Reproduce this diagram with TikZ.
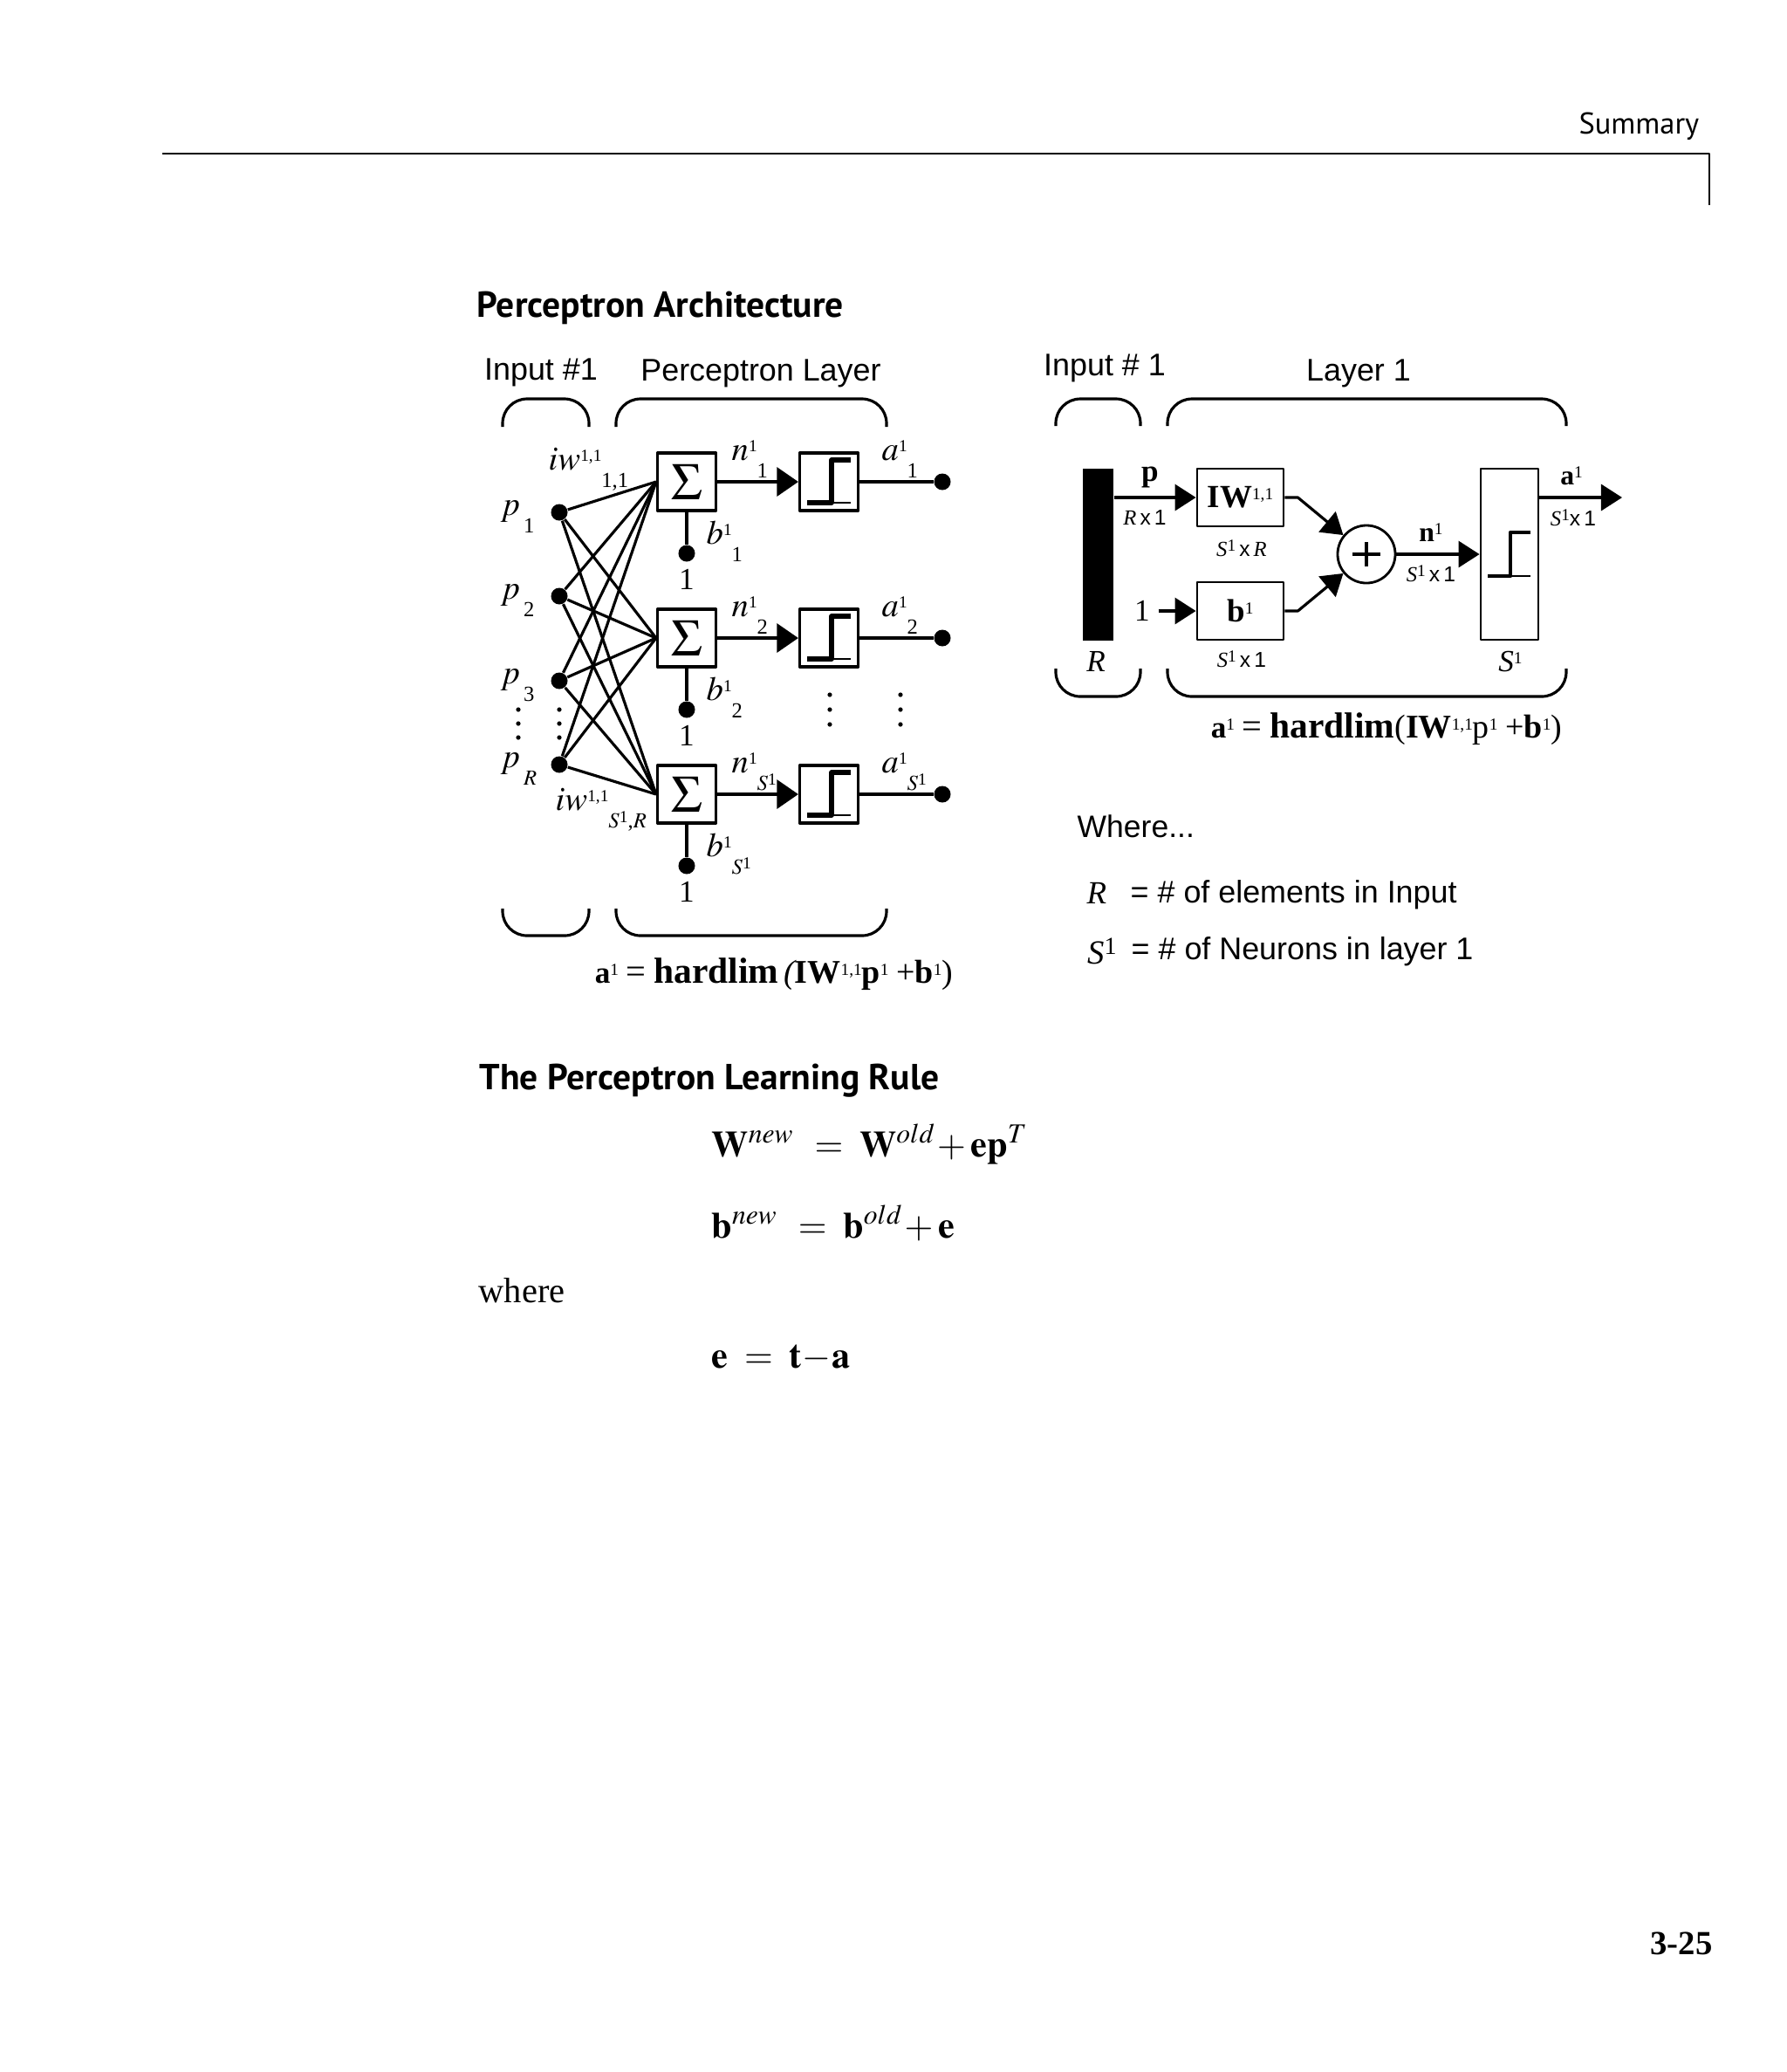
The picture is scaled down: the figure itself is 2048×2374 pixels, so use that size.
\documentclass[tikz,border=0pt]{standalone}
\usepackage{mathptmx}
\usepackage[no-math]{fontspec}
\setmainfont{Liberation Serif}
\setsansfont{Liberation Sans}
\newfontfamily\headfont{PT Sans}
\usetikzlibrary{arrows.meta,positioning}

\newcommand{\setfs}[1]{\fontsize{#1}{#1}\selectfont}
\newcommand{\tsup}[1]{\raisebox{0.55ex}{\setfs{5.5}#1}}
\newcommand{\lsub}[1]{\raisebox{-1.15ex}{\setfs{7}#1}}

\tikzset{
  blk/.style={draw,line width=0.9pt,inner sep=0pt,minimum width=0.67cm,minimum height=0.66cm},
  blkr/.style={draw,line width=0.8pt,inner sep=0pt},
  bigdot/.style={circle,fill,inner sep=0pt,minimum size=0.19cm},
  wire/.style={line width=0.9pt},
  sig/.style={wire,-{Triangle[length=0.245cm,width=0.33cm]}},
  sigr/.style={wire,-{Triangle[length=0.24cm,width=0.3cm]}},
  brace/.style={line width=0.9pt,rounded corners=0.28cm},
  lbl/.style={inner sep=0pt,font=\sffamily\setfs{10.2}},
  mlbl/.style={inner sep=0pt,font=\setfs{11}},
  dimlbl/.style={inner sep=0pt,font=\setfs{7}},
  head/.style={inner sep=0pt,anchor=west,font=\headfont\bfseries\setfs{11.8}},
}

\begin{document}
\begin{tikzpicture}[x=0.01cm,y=-0.01cm,line join=round]
\useasboundingbox (0,0) rectangle (2048,2374);
% page header
\node[inner sep=0pt,anchor=east,font=\headfont\setfs{9.8}] (summary) at (1948,145) {Summary};
\draw[line width=0.75pt] (186,176) -- (1959,176) -- (1959,235);
\node[head] (archtitle) at (546,353) {Perceptron Architecture};

% left: braces and titles
\foreach \l/\r in {576/675,706/1016}{
  \draw[brace] (\l,489) -- (\l,457) -- (\r,457) -- (\r,489);
  \draw[brace] (\l,1041) -- (\l,1072) -- (\r,1072) -- (\r,1041);
}
\node[lbl] (inlabel) at (620,427) {Input \#1};
\node[lbl] (layerlabel) at (872,428) {Perceptron Layer};

% inputs
\foreach \n/\y/\k in {1/587/1,2/683/2,3/780/3,R/876/$R$}{
  \node[bigdot] (p\n) at (641,\y) {};
  \node[mlbl,anchor=base west] (pl\n) at (573,\y+3) {$p$\lsub{\,\k}};
}

% neurons
\foreach \n/\y/\k in {1/552/1,2/731/2,S/910/$S$\tsup{1}}{
  \node[blk] (s\n) at (787,\y) {\setfs{17}$\Sigma$};
  \node[blk] (f\n) at (950,\y) {};
  \node[bigdot] (o\n) at (1080,\y) {};
  \node[bigdot] (b\n) at (787,\y+82) {};
  \node[mlbl,font=\setfs{10}] (one\n) at (787,\y+112) {1};
  \node[mlbl,anchor=base west] (nl\n) at (838,\y-25) {$n$\tsup{1}\lsub{\k}};
  \node[mlbl,anchor=base west] (al\n) at (1010,\y-25) {$a$\tsup{1}\lsub{\k}};
  \node[mlbl,anchor=base west] (bl\n) at (809,\y+71) {$b$\tsup{1}\lsub{\k}};
  \draw[sig] (s\n) -- (f\n);
  \draw[wire] (f\n) -- (o\n);
  \draw[wire] (s\n) -- (b\n);
  % hard limit
  \draw[line width=1.5pt] ([shift={(-25,24)}]f\n.center) -- ++(28,0) |- ++(22,-49);
  \draw[line width=0.5pt] ([shift={(3,24)}]f\n.center) -- ++(22,0);
}

% weights
\foreach \i in {1,2,3,R}
  \foreach \j in {1,2,S}
    \draw[wire] (p\i) -- (s\j.west);
\node[mlbl,anchor=base west] (iwfirst) at (628,538) {$iw$\tsup{1,1}\lsub{1,1}};
\node[mlbl,anchor=base west] (iwlast) at (636,928) {$iw$\tsup{1,1}\lsub{$S$\tsup{1},$R$}};

% dots
\foreach \x in {594,641}
  \foreach \y in {813,829,845}
    \fill (\x,\y) circle (0.026cm);
\foreach \x in {951,1032}
  \foreach \y in {796,813,830}
    \fill (\x,\y) circle (0.026cm);

\node[inner sep=0pt] (eqleft) at (887,1116) {{\bfseries\setfs{10}a}\tsup{1} {\setfs{11.5}=} {\bfseries\setfs{11.8}hardlim}\,{\setfs{10.8}\itshape(}{\bfseries\setfs{10.8}IW}\tsup{1,1}{\bfseries\setfs{10.8}p}\tsup{1} {\setfs{10.8}+}{\bfseries\setfs{10.8}b}\tsup{1}{\setfs{10.8})}};

% right: braces and titles
\foreach \l/\r in {1210/1307,1338/1795}{
  \draw[brace] (\l,488) -- (\l,457) -- (\r,457) -- (\r,488);
  \draw[brace] (\l,766) -- (\l,798) -- (\r,798) -- (\r,766);
}
\node[lbl] (inlabelr) at (1266,422) {Input \# 1};
\node[lbl] (layerlabelr) at (1557,428) {Layer 1};

% abbreviated network
\node[fill,inner sep=0pt,minimum width=0.35cm,minimum height=1.97cm] (bar) at (1258.5,635.5) {};
\node[blkr,minimum width=0.99cm,minimum height=0.66cm] (iw) at (1421.5,570) {{\bfseries\setfs{10.5}IW}\tsup{1,1}};
\node[blkr,minimum width=0.99cm,minimum height=0.66cm] (bb) at (1421.5,700) {{\bfseries\setfs{10.5}b}\tsup{1}};
\node[circle,draw,line width=0.8pt,minimum size=0.66cm,inner sep=0pt] (sum) at (1566,635) {};
\node[blkr,minimum width=0.66cm,minimum height=1.96cm] (tf) at (1730,635) {};
\node[mlbl,font=\setfs{10},inner sep=0.09cm] (one) at (1309,700) {1};
\coordinate (aout) at (1859,570);

\draw[sigr] (bar.east |- iw.west) -- (iw.west);
\draw[sigr] (one) -- (bb);
\draw[sigr] (iw.east) -- ++(15,0) -- (sum);
\draw[sigr] (bb.east) -- ++(15,0) -- (sum);
\draw[sigr] (sum) -- (tf);
\draw[sigr] (tf.east |- iw.east) -- (aout);
\draw[line width=0.9pt] ([xshift=-0.16cm]sum.center) -- ([xshift=0.16cm]sum.center);
\draw[line width=0.9pt] ([yshift=-0.14cm]sum.center) -- ([yshift=0.14cm]sum.center);
\draw[line width=1.3pt] ([shift={(-25,25)}]tf.center) -- ++(26,0) |- ++(23,-50);
\draw[line width=0.5pt] ([shift={(1,25)}]tf.center) -- ++(23,0);

\node[inner sep=0pt,font=\bfseries\setfs{10}] (plab) at (1318,547) {p};
\node[dimlbl] (pdim) at (1312,593) {{\itshape R}\,{\sffamily x\,1}};
\node[dimlbl] (iwdim) at (1423,628) {{\itshape S}\tsup{1}\,{\sffamily x}\,{\itshape R}};
\node[dimlbl] (bdim) at (1423,755) {{\itshape S}\tsup{1}\,{\sffamily x\,1}};
\node[inner sep=0pt,font=\setfs{9}] (nlab) at (1640,610) {{\bfseries n}\tsup{1}};
\node[dimlbl] (ndim) at (1640,657) {{\itshape S}\tsup{1}\,{\sffamily x\,1}};
\node[inner sep=0pt,font=\setfs{9}] (alab) at (1801,545) {{\bfseries a}\tsup{1}};
\node[dimlbl] (adim) at (1803,593) {{\itshape S}\tsup{1}{\sffamily x\,1}};
\node[mlbl,font=\setfs{10}\itshape] (rlab) at (1256,758) {R};
\node[mlbl,font=\setfs{10}] (slab) at (1731,758) {{\itshape S}\tsup{1}};

\node[inner sep=0pt] (eqright) at (1589,835) {{\bfseries\setfs{10}a}\tsup{1} {\setfs{11.5}=} {\bfseries\setfs{11.8}hardlim}{\setfs{10.8}(}{\bfseries\setfs{10.8}IW}\tsup{1,1}{\setfs{10.8}p}\tsup{1} {\setfs{10.8}+}{\bfseries\setfs{10.8}b}\tsup{1}{\setfs{10.8})}};

% legend
\node[lbl,anchor=west,font=\sffamily\setfs{10.1}] (where) at (1234,947) {Where...};
\node[mlbl,font=\setfs{10.5}\itshape] (rsym) at (1257,1023) {R};
\node[lbl,anchor=west,font=\sffamily\setfs{10.2}] (rdef) at (1295,1025) {= \# of elements in Input};
\node[mlbl,font=\setfs{11}] (ssym) at (1263,1090) {{\itshape S}\raisebox{0.6ex}{\setfs{8}1}};
\node[lbl,anchor=west,font=\sffamily\setfs{10.2}] (sdef) at (1296,1090) {= \# of Neurons in layer 1};

% learning rule
\node[head] (ruletitle) at (549,1238) {The Perceptron Learning Rule};
\node[mlbl,font=\setfs{12},anchor=base west] (weq) at (815,1325) {$\mathbf{W}^{new}\;\,=\;\mathbf{W}^{old}\!+\mathbf{ep}^{T}$};
\node[mlbl,font=\setfs{12},anchor=base west] (beq) at (815,1418) {$\mathbf{b}^{new}\;\,=\;\mathbf{b}^{old}\!+\mathbf{e}$};
\node[mlbl,font=\setfs{11.5},anchor=base west] (wheretxt) at (548,1492) {where};
\node[mlbl,font=\setfs{12},anchor=base west] (eeq) at (815,1567) {$\mathbf{e}\;=\;\mathbf{t}\!-\!\mathbf{a}$};

\node[inner sep=0pt,font=\bfseries\setfs{11}] (pageno) at (1927,2227) {3-25};
\end{tikzpicture}
\end{document}
